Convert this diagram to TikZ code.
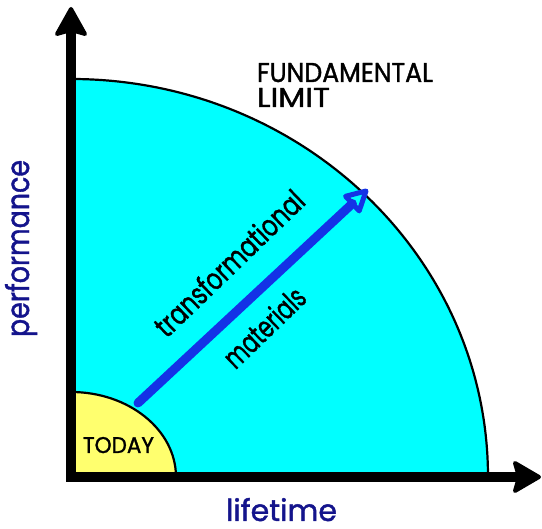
\documentclass[tikz,border=0pt]{standalone}
\usepackage{graphicx}
\usepackage{fontspec}
\setmainfont{Poppins}[FakeBold=1.4]
\definecolor{limitcyan}{RGB}{0,255,255}
\definecolor{todayyellow}{RGB}{255,255,110}
\definecolor{arrowblue}{RGB}{20,50,230}
\definecolor{labelnavy}{RGB}{20,20,140}
\tikzset{
  axisline/.style={line width=10pt, line join=miter, black},
  axishead/.style={fill=black, draw=black, line width=4pt, line join=round},
  arcline/.style={draw=black, line width=2.2pt},
  blueshaft/.style={draw=arrowblue, line width=9pt, line cap=round},
  bluehead/.style={draw=arrowblue, line width=5pt, line join=round},
  plain/.style={inner sep=0pt, outer sep=0pt},
  axislabel/.style={plain, text=labelnavy},
}
\newcommand{\fitwh}[3]{\resizebox{#1}{#2}{#3}}
\begin{document}
\begin{tikzpicture}[x=1pt,y=1pt]
\useasboundingbox (0,0) rectangle (542,529);
% key points
\coordinate (O) at (71,52);
\coordinate (ytop) at (71,500);
\coordinate (xend) at (518,52);
\coordinate (bigR) at (488,52);
\coordinate (smallR) at (176,52);
% regions
\fill[limitcyan] (O) -- (bigR) arc[start angle=0, end angle=90, x radius=417pt, y radius=398pt] -- cycle;
\draw[arcline] (bigR) arc[start angle=0, end angle=90, x radius=417pt, y radius=398pt];
\fill[todayyellow] (O) -- (smallR) arc[start angle=0, end angle=90, x radius=105pt, y radius=85pt] -- cycle;
\draw[arcline] (smallR) arc[start angle=0, end angle=90, x radius=105pt, y radius=85pt];
% axes
\draw[axisline] (ytop) -- (O) -- (xend);
\coordinate (vtip) at (71,520);
\coordinate (vl) at (57,495);
\coordinate (vn) at (71,499);
\coordinate (vr) at (85,495);
\path[axishead] (vtip) -- (vl) -- (vn) -- (vr) -- cycle;
\coordinate (htip) at (539,52);
\coordinate (hu) at (515,66);
\coordinate (hn) at (519,52);
\coordinate (hd) at (515,38);
\path[axishead] (htip) -- (hu) -- (hn) -- (hd) -- cycle;
% blue arrow
\coordinate (bstart) at (138,126);
\coordinate (bbase) at (352.4,325.4);
\coordinate (btip) at (366,338);
\coordinate (bc1) at (345.6,332.7);
\coordinate (bc2) at (359.2,318.1);
\draw[blueshaft] (bstart) -- (bbase);
\draw[bluehead] (btip) -- (bc1) -- (bc2) -- cycle;
% texts
\node[plain, anchor=base west] (fund) at (257,447) {\fitwh{176pt}{19pt}{FUNDAMENTAL}};
\node[plain, anchor=base west] (limit) at (257,422) {\fitwh{73pt}{19pt}{LIMIT}};
\node[plain, anchor=base west] (today) at (83,76) {\fitwh{71pt}{16pt}{TODAY}};
\node[axislabel, anchor=base west] (life) at (226,8) {\fitwh{111pt}{23pt}{lifetime}};
\node[axislabel, anchor=base west, rotate=90] (perf) at (29,192) {\fitwh{177pt}{24pt}{performance}};
\node[plain, rotate=44] (trans) at (229,266) {\fitwh{195pt}{23pt}{transformational}};
\node[plain, rotate=44] (mat) at (264,202) {\fitwh{101pt}{23pt}{materials}};
\end{tikzpicture}
\end{document}
